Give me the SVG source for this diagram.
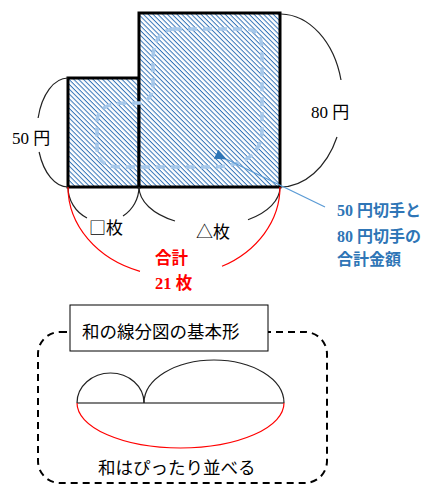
<svg xmlns="http://www.w3.org/2000/svg" width="439" height="497" viewBox="0 0 439 497">
<style>
.arc{fill:none;stroke:#222;stroke-width:1.2}
.red{fill:none;stroke:#FF0000;stroke-width:1.2}
.lbl{font-family:"Liberation Serif","Noto Sans CJK JP",serif;font-size:17px;fill:#000}
.goth{font-family:"Noto Sans CJK JP","Noto Sans",sans-serif;font-size:17px;fill:#000}
.blue{font-family:"Liberation Serif","Noto Sans CJK JP",serif;font-size:16px;font-weight:bold;fill:#2E75B6}
.redt{font-family:"Liberation Serif","Noto Sans CJK JP",serif;font-size:16.5px;font-weight:bold;fill:#FF0000}
.sq{fill:url(#hatch);stroke:#000;stroke-width:3}
</style>
<defs>
<pattern id="hatch" patternUnits="userSpaceOnUse" width="3.4" height="3.4" patternTransform="rotate(45)">
<rect width="3.4" height="3.4" fill="#fff"/>
<rect y="0" width="3.4" height="1" fill="#3474B8"/>
</pattern>
<marker id="ah" markerWidth="12" markerHeight="10" refX="1" refY="5" orient="auto-start-reverse" markerUnits="userSpaceOnUse">
<path d="M0,5 L12,0 L12,10 Z" fill="#2E75B6"/>
</marker>
</defs>

<g id="stamp50"><rect class="sq" x="68" y="78" width="71" height="109"/></g>
<g id="stamp80"><rect class="sq" x="139" y="13" width="141" height="174"/></g>
<g id="total-area"><path d="M173,29 L245,29 Q262,29 262,50 L262,130 Q262,150 245,160 Q230,167 213,167 L120,167 Q97,167 97,147 L97,122 Q97,103 125,103 L140,103 Q153,100 153,85 L153,60 Q153,32 173,29 Z" fill="none" stroke="#A6C8EA" stroke-width="3.5" stroke-dasharray="9,6"/></g>

<g id="connectors">
<path class="arc" d="M68,78 A31,54.5 0 0 0 38.1,118"/>
<path class="arc" d="M39.1,152 A31,54.5 0 0 0 68,187"/>
<path class="arc" d="M281,14 A63,87 0 0 1 341,80"/>
<path class="arc" d="M337,137 A63,87 0 0 1 280,187"/>
<path class="arc" d="M68,187 A35.5,35 0 0 0 87,218"/>
<path class="arc" d="M123,216 A35.5,35 0 0 0 139,187"/>
<path class="arc" d="M139,187 A70.5,39 0 0 0 175,221"/>
<path class="arc" d="M248,219.7 A70.5,39 0 0 0 280,187"/>
<path class="red" d="M68,187 A106,89 0 0 0 140,271.3"/>
<path class="red" d="M222,266.3 A106,89 0 0 0 280,187"/>
<line x1="325" y1="207" x2="226" y2="159" stroke="#5B9BD5" stroke-width="1.2" marker-end="url(#ah)"/>
</g>

<g id="labels">
<text class="lbl" x="12" y="144">50 円</text>
<text class="lbl" x="311" y="118">80 円</text>
<text class="goth" x="89" y="234">□枚</text>
<text class="goth" x="196" y="238">△枚</text>
<text class="redt" x="155" y="264">合計</text>
<text class="redt" x="155" y="289">21 枚</text>
<text class="blue" x="337" y="216">50 円切手と</text>
<text class="blue" x="337" y="242">80 円切手の</text>
<text class="blue" x="337" y="265">合計金額</text>
</g>

<g id="basic-form">
<rect x="38" y="332" width="289" height="151" rx="22" ry="22" fill="none" stroke="#000" stroke-width="2" stroke-dasharray="7,5"/>
<rect x="70" y="305" width="198" height="46" fill="#fff" stroke="#000" stroke-width="1"/>
<text class="goth" x="82" y="338" style="font-size:17.5px">和の線分図の基本形</text>
<line x1="77" y1="403" x2="284" y2="403" stroke="#000" stroke-width="1.2"/>
<path class="arc" d="M77,403 A33.5,30 0 0 1 144,403"/>
<path class="arc" d="M144,403 A70,43 0 0 1 284,403"/>
<path class="red" d="M77,403 A103.5,45 0 0 0 284,403"/>
<text class="goth" x="98" y="474" style="font-size:17.5px">和はぴったり並べる</text>
</g>
</svg>
